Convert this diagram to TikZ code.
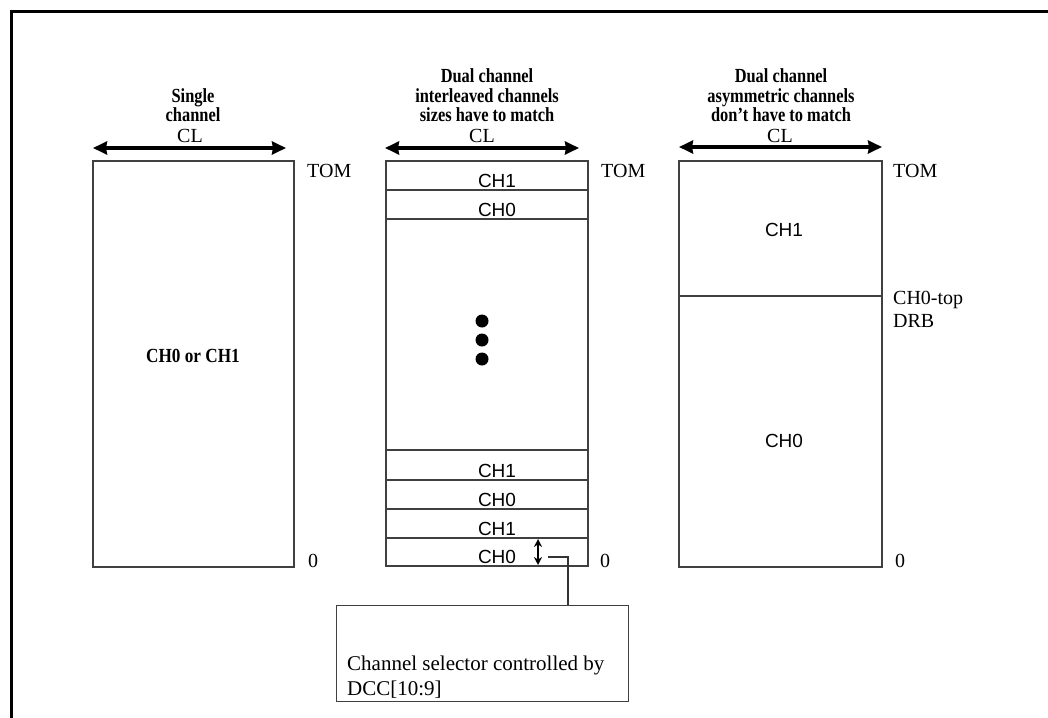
\documentclass[tikz,border=0pt]{standalone}
\usepackage{fontspec}
\setmainfont{Liberation Serif}
\newfontfamily\arialf{Liberation Sans}
\newfontfamily\hdrf[FakeStretch=0.82,Ligatures=TeX]{Liberation Serif}
\newfontfamily\labf[FakeStretch=0.86,Ligatures=TeX]{Liberation Serif}
\usetikzlibrary{arrows.meta}
\begin{document}
\begin{tikzpicture}[x=1pt,y=-1pt,
  box/.style={draw=black!75, line width=1.1pt},
  lbl/.style={anchor=base, inner sep=0pt, font=\fontsize{20}{24}\selectfont},
  hdr/.style={anchor=base, inner sep=0pt, font=\hdrf\fontsize{20}{24}\selectfont\bfseries},
  ch/.style={anchor=base, inner sep=0pt, font=\arialf\fontsize{19}{22}\selectfont},
  clarrow/.style={line width=3.2pt, {Stealth[length=14pt,width=13pt,inset=1pt]}-{Stealth[length=14pt,width=13pt,inset=1pt]}},
  smallarrow/.style={line width=2pt, {Stealth[length=8pt,width=8pt]}-{Stealth[length=8pt,width=8pt]}},
  dot/.style={circle, fill=black, inner sep=0pt, minimum size=13pt},
]
\useasboundingbox (0,0) rectangle (1048,717);
\fill[white] (0,0) rectangle (1048,717);
\begin{scope}
\clip (0,0) rectangle (1048,717);
\draw[line width=3pt] (1070,12) -- (11,12) -- (11,740);
\end{scope}

% headers
\node[hdr] (h1a) at (193,102) {Single};
\node[hdr] (h1b) at (193,121) {channel};
\node[hdr] (h2a) at (487,82) {Dual channel};
\node[hdr] (h2b) at (487,102) {interleaved channels};
\node[hdr] (h2c) at (487,121) {sizes have to match};
\node[hdr] (h3a) at (781,82) {Dual channel};
\node[hdr] (h3b) at (781,102) {asymmetric channels};
\node[hdr] (h3c) at (781,121) {don’t have to match};

% CL arrows
\coordinate (a1l) at (93,148); \coordinate (a1r) at (286,148);
\coordinate (a2l) at (385,148); \coordinate (a2r) at (579,148);
\coordinate (a3l) at (679,147); \coordinate (a3r) at (882,147);
\draw[clarrow] (a1l) -- (a1r);
\draw[clarrow] (a2l) -- (a2r);
\draw[clarrow] (a3l) -- (a3r);
\node[lbl] (cl1) at (190,142) {CL};
\node[lbl] (cl2) at (482,142) {CL};
\node[lbl] (cl3) at (780,142) {CL};

% left panel
\draw[box] (93,161) rectangle (294,567);
\node[anchor=base, inner sep=0pt, font=\labf\fontsize{20}{24}\selectfont\bfseries] (lab1) at (193,362) {CH0 or CH1};
\node[lbl, anchor=base west] (tom1) at (307,177) {TOM};
\node[lbl, anchor=base west] (z1) at (308,567) {0};

% middle panel
\draw[box] (386,161) rectangle (588,566);
\foreach \yy in {190,219,450,480,509,538} \draw[box] (386,\yy) -- (588,\yy);
\node[ch] (m1) at (497,187) {CH1};
\node[ch] (m2) at (497,216) {CH0};
\node[ch] (m3) at (497,477) {CH1};
\node[ch] (m4) at (497,506) {CH0};
\node[ch] (m5) at (497,535) {CH1};
\node[ch] (m6) at (497,563) {CH0};
\node[dot] (d1) at (482,321) {};
\node[dot] (d2) at (482,340) {};
\node[dot] (d3) at (482,359) {};
\node[lbl, anchor=base west] (tom2) at (601,177) {TOM};
\node[lbl, anchor=base west] (z2) at (600,567) {0};
\coordinate (sa1) at (538,539); \coordinate (sa2) at (538,565);
\draw[smallarrow] (sa1) -- (sa2);

% selector box
\node[draw=black!75, line width=1.1pt, minimum width=292pt, minimum height=96pt, anchor=north west, inner sep=0pt] (sel) at (336,605) {};
\node[lbl, anchor=base west, font=\fontsize{21}{24}\selectfont] (selt1) at (347,670) {Channel selector controlled by};
\node[lbl, anchor=base west, font=\fontsize{21}{24}\selectfont] (selt2) at (347,695) {DCC[10:9]};
\coordinate (c1) at (548,557);
\coordinate (c2) at (568,557);
\draw[line width=1.1pt, black!80] (c1) -- (c2) -- (c2 |- sel.north);

% right panel
\draw[box] (679,161) rectangle (882,567);
\draw[box] (679,296) -- (882,296);
\node[ch] (r1) at (784,236) {CH1};
\node[ch] (r2) at (784,447) {CH0};
\node[lbl, anchor=base west] (tom3) at (893,177) {TOM};
\node[lbl, anchor=base west] (top3) at (893,304) {CH0-top};
\node[lbl, anchor=base west] (drb3) at (893,327) {DRB};
\node[lbl, anchor=base west] (z3) at (895,567) {0};
\end{tikzpicture}
\end{document}
